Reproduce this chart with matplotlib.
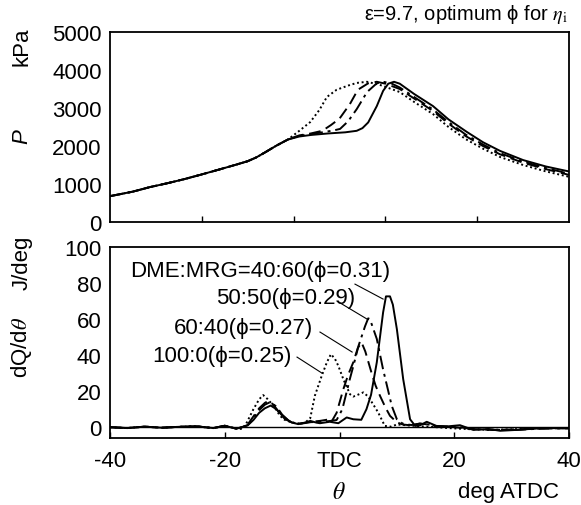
import matplotlib
matplotlib.use("Agg")
import matplotlib.pyplot as plt

plt.rcParams['font.family'] = ['Liberation Sans', 'DejaVu Sans']
plt.rcParams['mathtext.fontset'] = 'stix'

# ---- cylinder pressure (kPa) vs crank angle (deg ATDC) ----
p_common_deg = [-40, -36, -33, -30, -27, -24.3, -21, -18, -16, -14.5, -13, -11, -9]
p_common_val = [680, 800, 920, 1020, 1130, 1240, 1380, 1510, 1600, 1700, 1830, 2010, 2170]

p_solid_deg = [-7, -5, -2, 1, 3, 4, 5, 6.5, 7.6, 8.5, 9.5, 10.5, 13, 16.3, 19, 22.2, 25, 28, 32, 36, 40]
p_solid_val = [2250, 2290, 2330, 2360, 2400, 2470, 2620, 3050, 3450, 3640, 3690, 3640, 3370, 3050, 2700, 2370, 2100, 1870, 1630, 1460, 1330]

p_dot_deg = [-7, -5.1, -3.5, -2.2, -0.5, 1.5, 3, 4.8, 7, 10.5, 13, 16.3, 19, 22, 25, 28, 32, 36, 40]
p_dot_val = [2400, 2630, 2950, 3290, 3480, 3590, 3660, 3690, 3610, 3420, 3160, 2840, 2500, 2180, 1930, 1710, 1500, 1330, 1190]

p_dash_deg = [-7, -5, -3, -1.5, 0, 1.8, 3.2, 5, 6.5, 8, 10.5, 13, 16.3, 19, 22, 25, 28, 32, 36, 40]
p_dash_val = [2280, 2330, 2400, 2550, 2720, 3100, 3480, 3650, 3690, 3640, 3500, 3250, 2920, 2590, 2260, 2000, 1780, 1560, 1390, 1240]

p_dd_deg = [-7, -5, -3, -1, 0.1, 1.5, 3, 4.8, 6.5, 7.6, 9, 10.5, 13, 16.3, 19, 22, 25, 28, 32, 36, 40]
p_dd_val = [2270, 2310, 2360, 2410, 2450, 2650, 2970, 3420, 3650, 3690, 3650, 3540, 3290, 2960, 2630, 2300, 2040, 1810, 1590, 1420, 1270]

# ---- heat release rate dQ/dtheta (J/deg) ----
q_common_deg = [-40, -37, -34, -31, -28, -25, -22, -20, -18]
q_common_val = [0, -0.5, 0.3, -0.3, 0.2, 0.5, -0.5, 0.8, -0.8]

q_solid_deg = [-17, -16, -15, -14, -13, -12, -11, -10, -9, -8.3, -7.2, -6, -5.1, -4, -3.4, -1.7, -0.2, 1.25,
               2.4, 3.8, 4.7, 5.5, 6.5, 7.6, 8.1, 8.8, 9.3, 10, 11.1, 12.3, 13.2, 14, 15.2, 16.9, 19, 21,
               23.3, 26, 28, 30.9, 34, 37, 40]
q_solid_val = [0, 1, 4, 8, 10.5, 12, 10, 6.5, 4, 2.6, 1.7, 2.5, 3.5, 2.5, 2.2, 3, 2.2, 5.4,
               4.4, 4.1, 10, 18, 36, 63.7, 72.6, 72.6, 68, 54.4, 26.7, 4.4, 0.7, 1, 3, 0.7, 0.5, 1.1,
               -1.5, -1, -2, -1.5, -0.8, -0.5, -0.7]

q_dot_deg = [-17, -16.3, -15, -14, -13.3, -12.5, -11.5, -10.5, -9.8, -8.3, -7, -6, -5.1, -4.3, -3.1, -2.2,
             -1.5, -0.8, -0.2, 0.66, 1.83, 2.4, 3.2, 4.15, 5, 6, 6.75, 7.9, 9, 10, 12, 14, 16, 19, 22,
             26, 30, 35, 40]
q_dot_val = [-1, 1.7, 10, 15.5, 17.8, 15.5, 11.9, 7, 4.4, 2.6, 2, 2.5, 5, 17.4, 28.5, 36,
             40.5, 38, 34, 26.7, 18.3, 17, 18, 19.3, 17, 12, 8.1, 0.7, 0.3, 1.5, 1, 0.5, 0.2, -0.5, -1,
             -1.5, -1.2, -0.5, -0.5]

q_dash_deg = [-17, -16, -15, -14, -13, -12.4, -11.5, -10.5, -9.5, -8.3, -7, -5, -3.4, -1.7, -1.4, -0.5,
              0.66, 1.5, 2.4, 3.2, 3.85, 4.5, 5.6, 6.3, 7.06, 8, 8.8, 10, 11, 12.5, 14, 15.5, 17, 20,
              23, 27, 31, 35, 40]
q_dash_val = [0, 1.5, 6, 10.5, 13.5, 14.6, 12.5, 8, 4.5, 2.6, 2, 3, 3.5, 4.4, 3, 8,
              21, 29, 36, 44, 47, 42, 30, 23, 17.4, 11, 6.3, 2.7, 1.5, 1, 2, 1.5, 0.5, 0,
              -1, -1.5, -1.2, -0.7, -0.5]

q_dd_deg = [-17, -16, -15, -14, -13, -12.1, -11, -10, -9, -8, -7, -5, -3, -1.5, -0.5, 0.5, 1.8, 2.5,
            3.3, 4.45, 5.0, 5.3, 6.5, 7.6, 8.5, 9.1, 10, 11, 12.5, 14, 15.5, 17, 20, 23, 27, 31, 35, 40]
q_dd_val = [0, 1.2, 5, 9.5, 12.5, 13.9, 11.5, 7, 4, 2.4, 1.8, 2.8, 3, 3.5, 4, 10, 26.7, 35,
            45, 56, 60.4, 60, 49, 32, 20, 11.9, 4.4, 2, 1.2, 2, 1.5, 0.2, 0.5, -1, -1.5, -1.5, -0.8, -0.6]

labels = ['DME:MRG=40:60(\u03d5=0.31)', '50:50(\u03d5=0.29)', '60:40(\u03d5=0.27)', '100:0(\u03d5=0.25)']
label_xy = [(8.8, 86.7), (2.7, 71.7), (-4.6, 55.6), (-8.3, 40.0)]
leader_start = [(2.7, 79.4), (-0.44, 70.0), (-3.4, 52.8), (-7.4, 38.9)]
leader_end = [(7.6, 71.1), (4.8, 60.0), (2.2, 41.7), (-3.05, 30.0)]

styles = {
    'solid': '-',
    'dot': (0, (1, 1.4)),
    'dash': (0, (6, 3)),
    'dd': (0, (7, 2.5, 1.5, 2.5)),
}

W, H = 581, 506
fig = plt.figure(figsize=(W / 100, H / 100), dpi=100)


def frac(x0, y0, x1, y1):
    return [x0 / W, 1 - y1 / H, (x1 - x0) / W, (y1 - y0) / H]


ax1 = fig.add_axes(frac(110, 33, 569, 223))
ax2 = fig.add_axes(frac(110, 248, 569, 439))
fs = 16

curves_p = [
    (p_common_deg + p_dot_deg, p_common_val + p_dot_val, 'dot'),
    (p_common_deg + p_dash_deg, p_common_val + p_dash_val, 'dash'),
    (p_common_deg + p_dd_deg, p_common_val + p_dd_val, 'dd'),
    (p_common_deg + p_solid_deg, p_common_val + p_solid_val, 'solid'),
]
for xs, ys, st in curves_p:
    ax1.plot(xs, ys, color='black', linestyle=styles[st], lw=1.4)

curves_q = [
    (q_common_deg + q_dot_deg, q_common_val + q_dot_val, 'dot'),
    (q_common_deg + q_dash_deg, q_common_val + q_dash_val, 'dash'),
    (q_common_deg + q_dd_deg, q_common_val + q_dd_val, 'dd'),
    (q_common_deg + q_solid_deg, q_common_val + q_solid_val, 'solid'),
]
for xs, ys, st in curves_q:
    ax2.plot(xs, ys, color='black', linestyle=styles[st], lw=1.4)
ax2.axhline(0, color='black', lw=1.0)

ax1.set_xlim(-40, 40)
ax1.set_ylim(0, 5000)
ax1.set_xticks([-24, -8, 8, 24])
ax1.set_xticklabels([])
ax1.set_yticks([0, 1000, 2000, 3000, 4000, 5000])

ax2.set_xlim(-40, 40)
ax2.set_ylim(-6, 100)
ax2.set_xticks([-40, -20, 0, 20, 40])
ax2.set_xticklabels(['-40', '-20', 'TDC', '20', '40'])
ax2.set_yticks([0, 20, 40, 60, 80, 100])

for ax in (ax1, ax2):
    for s in ax.spines.values():
        s.set_linewidth(1.3)
    ax.tick_params(axis='x', direction='in', length=4, width=1, pad=9, labelsize=fs)
    ax.tick_params(axis='y', length=0, pad=6, labelsize=fs)

for txt, (tx, ty), (sx, sy), (ex, ey) in zip(labels, label_xy, leader_start, leader_end):
    ax2.text(tx, ty, txt, ha='right', va='center', fontsize=fs)
    ax2.plot([sx, ex], [sy, ey], color='black', lw=0.8)

fig.text(568 / W, 1 - 14 / H, '\u03b5=9.7, optimum \u03d5 for $\\eta_{\\rm i}$', ha='right', va='center',
         fontsize=14.5)
fig.text(22 / W, 1 - 47 / H, 'kPa', rotation=90, ha='center', va='center', fontsize=fs)
fig.text(22 / W, 1 - 137 / H, 'P', rotation=90, ha='center', va='center', fontsize=fs, style='italic')
fig.text(22 / W, 1 - 263 / H, 'J/deg', rotation=90, ha='center', va='center', fontsize=fs)
fig.text(22 / W, 1 - 347 / H, 'dQ/d$\\theta$', rotation=90, ha='center', va='center', fontsize=fs)
fig.text(339 / W, 1 - 493 / H, '$\\theta$', ha='center', va='center', fontsize=fs + 1)
fig.text(508 / W, 1 - 493 / H, 'deg ATDC', ha='center', va='center', fontsize=fs)

fig.savefig('out.png', dpi=100)
